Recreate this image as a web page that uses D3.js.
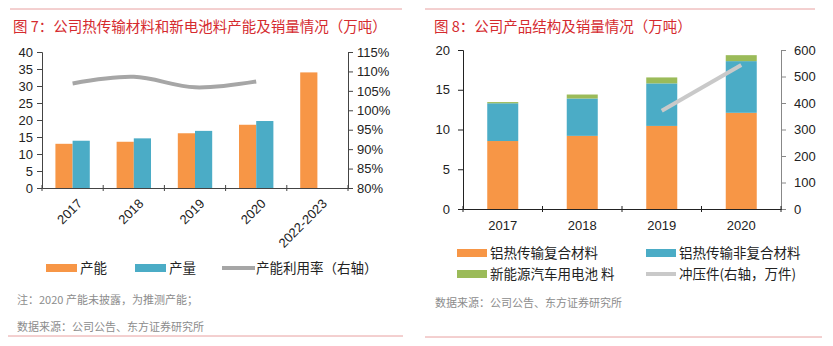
<!DOCTYPE html>
<html>
<head>
<meta charset="utf-8">
<script src="https://cdn.jsdelivr.net/npm/d3@7"></script>
<style>
body { margin: 0; background: #fff; }
text { font-family: "Liberation Sans", Arial, "Noto Sans CJK SC", sans-serif; }
.cn { font-family: "Noto Sans CJK SC", sans-serif; }
</style>
</head>
<body>
<svg id="chart" width="833" height="346"></svg>
<script>
// chart 7 data
var years7 = ["2017", "2018", "2019", "2020", "2022-2023"];
var capacity = [13.0, 13.6, 16.1, 18.6, 34.0];
var output = [13.9, 14.6, 16.8, 19.7, null];
var utilRate = [106.9, 108.6, 105.9, 107.4, null];
var leftTicks7 = [0, 5, 10, 15, 20, 25, 30, 35, 40];
var rightTicks7 = [80, 85, 90, 95, 100, 105, 110, 115];

// chart 8 data
var years8 = ["2017", "2018", "2019", "2020"];
var alComposite = [8.55, 9.2, 10.45, 12.1];
var alNonComposite = [4.75, 4.7, 5.35, 6.5];
var batteryMat = [0.15, 0.5, 0.75, 0.75];
var stampings = [null, null, 371, 543];
var leftTicks8 = [0, 5, 10, 15, 20];
var rightTicks8 = [0, 100, 200, 300, 400, 500, 600];

var ORANGE = "#f79646", BLUE = "#4bacc6", GREEN = "#9bbb59", RED = "#d52b2f";

var svg = d3.select("#chart");

function redLine(x1, x2, y) {
    svg.append("line").attr("x1", x1).attr("x2", x2).attr("y1", y).attr("y2", y)
       .attr("stroke", "#e8a0a0").attr("stroke-width", 1);
}

function styleAxis(g, color) {
    g.select(".domain").attr("stroke", color);
    g.selectAll(".tick line").attr("stroke", color);
    g.selectAll(".tick text").attr("fill", "#222").attr("font-size", 13);
}

// ---------- chart 7 ----------
redLine(10, 402, 9);
redLine(8, 403, 336);
svg.append("text").attr("class", "cn").attr("x", 13).attr("y", 32)
   .attr("fill", RED).attr("font-size", 14.5).text("图 7：公司热传输材料和新电池料产能及销量情况（万吨）");

var x7 = d3.scaleBand().domain(years7).range([42, 348]);
var y7 = d3.scaleLinear().domain([0, 40]).range([188, 52]);
var yr7 = d3.scaleLinear().domain([80, 115]).range([188, 52]);
var inner7 = d3.scaleBand().domain([0, 1]).range([0, x7.bandwidth()]).paddingOuter(0.78).paddingInner(0);

var g7 = svg.append("g");
g7.selectAll(".cap").data(capacity).enter().append("rect")
  .attr("x", function(d, i) { return x7(years7[i]) + inner7(0); })
  .attr("width", inner7.bandwidth())
  .attr("y", function(d) { return y7(d); })
  .attr("height", function(d) { return y7(0) - y7(d); })
  .attr("fill", ORANGE);
g7.selectAll(".out").data(output).enter().filter(function(d) { return d != null; }).append("rect")
  .attr("x", function(d, i) { return x7(years7[i]) + inner7(1); })
  .attr("width", inner7.bandwidth())
  .attr("y", function(d) { return y7(d); })
  .attr("height", function(d) { return y7(0) - y7(d); })
  .attr("fill", BLUE);

var line7 = d3.line()
  .defined(function(d) { return d != null; })
  .x(function(d, i) { return x7(years7[i]) + x7.bandwidth() / 2; })
  .y(function(d) { return yr7(d); })
  .curve(d3.curveCatmullRom);
g7.append("path").attr("d", line7(utilRate)).attr("fill", "none")
  .attr("stroke", "#a6a6a6").attr("stroke-width", 4);

var ax7l = g7.append("g").attr("transform", "translate(42,0)")
  .call(d3.axisLeft(y7).tickValues(leftTicks7).tickSize(5).tickPadding(4).tickFormat(d3.format("d")));
styleAxis(ax7l, "#444");
var ax7r = g7.append("g").attr("transform", "translate(348,0)")
  .call(d3.axisRight(yr7).tickValues(rightTicks7).tickSize(5).tickPadding(4).tickFormat(function(d) { return d + "%"; }));
styleAxis(ax7r, "#444");
var ax7b = g7.append("g").attr("transform", "translate(0,188)")
  .call(d3.axisBottom(x7).tickSize(0).tickFormat(""));
ax7b.select(".domain").attr("stroke", "#444");
g7.selectAll(".xt").data(years7.concat(["end"])).enter().append("line")
  .attr("x1", function(d, i) { return i < years7.length ? x7(d) : 348; })
  .attr("x2", function(d, i) { return i < years7.length ? x7(d) : 348; })
  .attr("y1", 185).attr("y2", 191).attr("stroke", "#444");
g7.selectAll(".xl").data(years7).enter().append("text")
  .attr("transform", function(d) { return "translate(" + (x7(d) + x7.bandwidth() / 2 + 4) + ",198) rotate(-45)"; })
  .attr("text-anchor", "end").attr("dy", "0.7em").attr("font-size", 13).attr("fill", "#222")
  .text(function(d) { return d; });

var leg7 = [
  { label: "产能", color: ORANGE, x: 46, type: "bar" },
  { label: "产量", color: BLUE, x: 135, type: "bar" },
  { label: "产能利用率（右轴）", color: "#a6a6a6", x: 222, type: "line" }
];
leg7.forEach(function(l) {
    if (l.type === "bar")
        svg.append("rect").attr("x", l.x).attr("y", 264).attr("width", 31).attr("height", 8).attr("fill", l.color);
    else
        svg.append("line").attr("x1", l.x).attr("x2", l.x + 33).attr("y1", 268).attr("y2", 268)
           .attr("stroke", l.color).attr("stroke-width", 4);
    svg.append("text").attr("class", "cn").attr("x", l.x + 34).attr("y", 273)
       .attr("font-size", 13.5).attr("fill", "#222").text(l.label);
});
svg.append("text").attr("class", "cn").attr("x", 17).attr("y", 304).attr("font-size", 11)
   .attr("fill", "#8c8c8c").text("注：2020 产能未披露，为推测产能；");
svg.append("text").attr("class", "cn").attr("x", 17).attr("y", 331).attr("font-size", 11)
   .attr("fill", "#8c8c8c").text("数据来源：公司公告、东方证券研究所");

// ---------- chart 8 ----------
redLine(425, 815, 9);
redLine(425, 822, 337);
svg.append("text").attr("class", "cn").attr("x", 434).attr("y", 32)
   .attr("fill", RED).attr("font-size", 14.5).text("图 8：公司产品结构及销量情况（万吨）");

var x8 = d3.scaleBand().domain(years8).range([463, 781]).paddingInner(0.61).paddingOuter(0.305);
var xb8 = d3.scaleBand().domain(years8).range([463, 781]);
var y8 = d3.scaleLinear().domain([0, 20]).range([209, 50]);
var yr8 = d3.scaleLinear().domain([0, 600]).range([209, 50]);

var stackData = years8.map(function(y, i) {
    return { year: y, a: alComposite[i], b: alNonComposite[i], c: batteryMat[i] };
});
var series8 = d3.stack().keys(["a", "b", "c"])(stackData);
var colors8 = { a: ORANGE, b: BLUE, c: GREEN };
var g8 = svg.append("g");
g8.selectAll(".ser").data(series8).enter().append("g")
  .attr("fill", function(s) { return colors8[s.key]; })
  .selectAll("rect").data(function(s) { return s; }).enter().append("rect")
  .attr("x", function(d) { return x8(d.data.year); })
  .attr("width", x8.bandwidth())
  .attr("y", function(d) { return y8(d[1]); })
  .attr("height", function(d) { return y8(d[0]) - y8(d[1]); });

var line8 = d3.line()
  .defined(function(d) { return d != null; })
  .x(function(d, i) { return xb8(years8[i]) + xb8.bandwidth() / 2; })
  .y(function(d) { return yr8(d); });
g8.append("path").attr("d", line8(stampings)).attr("fill", "none")
  .attr("stroke", "#c9c9c9").attr("stroke-width", 4);

var ax8l = g8.append("g").attr("transform", "translate(463,0)")
  .call(d3.axisLeft(y8).tickValues(leftTicks8).tickSize(5).tickPadding(8));
styleAxis(ax8l, "#222");
var ax8r = g8.append("g").attr("transform", "translate(781,0)")
  .call(d3.axisRight(yr8).tickValues(rightTicks8).tickSize(5).tickPadding(8));
styleAxis(ax8r, "#888");
var ax8b = g8.append("g").attr("transform", "translate(0,209)")
  .call(d3.axisBottom(xb8).tickSize(0).tickPadding(12));
styleAxis(ax8b, "#222");
g8.selectAll(".xt").data(years8.concat(["end"])).enter().append("line")
  .attr("x1", function(d, i) { return i < years8.length ? xb8(d) : 781; })
  .attr("x2", function(d, i) { return i < years8.length ? xb8(d) : 781; })
  .attr("y1", 206).attr("y2", 212).attr("stroke", "#222");

var leg8 = [
  { label: "铝热传输复合材料", color: ORANGE, x: 457, y: 253, type: "bar" },
  { label: "铝热传输非复合材料", color: BLUE, x: 646, y: 253, type: "bar" },
  { label: "新能源汽车用电池 料", color: GREEN, x: 457, y: 274, type: "bar" },
  { label: "冲压件(右轴，万件)", color: "#c9c9c9", x: 646, y: 274, type: "line" }
];
leg8.forEach(function(l) {
    if (l.type === "bar")
        svg.append("rect").attr("x", l.x).attr("y", l.y - 4).attr("width", 30).attr("height", 8).attr("fill", l.color);
    else
        svg.append("line").attr("x1", l.x).attr("x2", l.x + 30).attr("y1", l.y).attr("y2", l.y)
           .attr("stroke", l.color).attr("stroke-width", 4);
    svg.append("text").attr("class", "cn").attr("x", l.x + 33).attr("y", l.y + 5)
       .attr("font-size", 13.5).attr("fill", "#222").text(l.label);
});
svg.append("text").attr("class", "cn").attr("x", 435).attr("y", 307).attr("font-size", 11)
   .attr("fill", "#8c8c8c").text("数据来源：公司公告、东方证券研究所");
</script>
</body>
</html>
